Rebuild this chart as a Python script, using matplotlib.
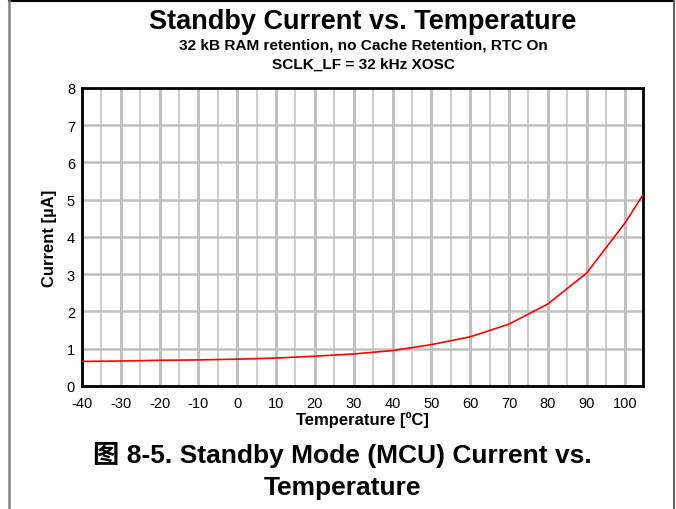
from matplotlib import pyplot as plt
from matplotlib.lines import Line2D
import numpy as np

temp = [-40, -30, -20, -10, 0, 10, 20, 30, 40, 50, 60, 70, 80, 90, 100, 105]
current = [0.66, 0.67, 0.69, 0.70, 0.72, 0.75, 0.80, 0.86, 0.95, 1.11, 1.32, 1.66, 2.20, 3.03, 4.39, 5.21]
x_ticks = list(range(-40, 101, 10))
y_ticks = list(range(0, 9))

plt.rcParams['font.family'] = ['Liberation Sans', 'DejaVu Sans']

fig = plt.figure(figsize=(6.76, 5.10), dpi=100)
ax = fig.add_axes([0.1213, 0.2412, 0.8297, 0.5843])

ax.plot(temp, current, color='#ff0000', lw=1.2, zorder=3)

ax.set_xlim(-40, 104.5)
ax.set_ylim(0, 8)
ax.set_xticks(x_ticks)
ax.set_xticklabels([str(t) for t in x_ticks], fontsize=10.5)
ax.set_xticks(np.arange(-35, 104, 10), minor=True)
ax.set_yticks(y_ticks)
ax.set_yticklabels([str(t) for t in y_ticks], fontsize=10.5)
ax.tick_params(which='both', length=0)
ax.tick_params(axis='x', pad=7)
ax.tick_params(axis='y', pad=5)

ax.grid(which='major', axis='x', color='#c0c0c0', lw=2.2)
ax.grid(which='minor', axis='x', color='#cccccc', lw=1.4)
ax.grid(which='major', axis='y', color='#c0c0c0', lw=1.8)
ax.set_axisbelow(True)
for s in ax.spines.values():
    s.set_linewidth(2)
    s.set_color('black')

ax.set_xlabel('Temperature [ºC]', fontsize=12, fontweight='bold', labelpad=1)
ax.set_ylabel('Current [µA]', fontsize=12, fontweight='bold', labelpad=7)

fig.text(0.537, 0.956, 'Standby Current vs. Temperature', ha='center', va='center',
         fontsize=19.5, fontweight='bold')
fig.text(0.537, 0.911, '32 kB RAM retention, no Cache Retention, RTC On', ha='center', va='center',
         fontsize=11.1, fontweight='bold')
fig.text(0.537, 0.874, 'SCLK_LF = 32 kHz XOSC', ha='center', va='center',
         fontsize=11.1, fontweight='bold')

cap_font = ['Liberation Sans', 'Noto Sans CJK SC', 'DejaVu Sans']
fig.text(0.507, 0.107, '图 8-5. Standby Mode (MCU) Current vs.', ha='center', va='center',
         fontsize=19, fontweight='bold', family=cap_font)
fig.text(0.507, 0.044, 'Temperature', ha='center', va='center',
         fontsize=19, fontweight='bold', family=cap_font)

# page frame
fig.add_artist(Line2D([9 / 676, 674 / 676], [1 - 2 / 510, 1 - 2 / 510], color='black', lw=1.5))
fig.add_artist(Line2D([9 / 676, 9 / 676], [0, 1 - 2 / 510], color='#808080', lw=1.8))
fig.add_artist(Line2D([674 / 676, 674 / 676], [0, 1 - 2 / 510], color='#606060', lw=1.5))

fig.savefig('out.png', dpi=100)
